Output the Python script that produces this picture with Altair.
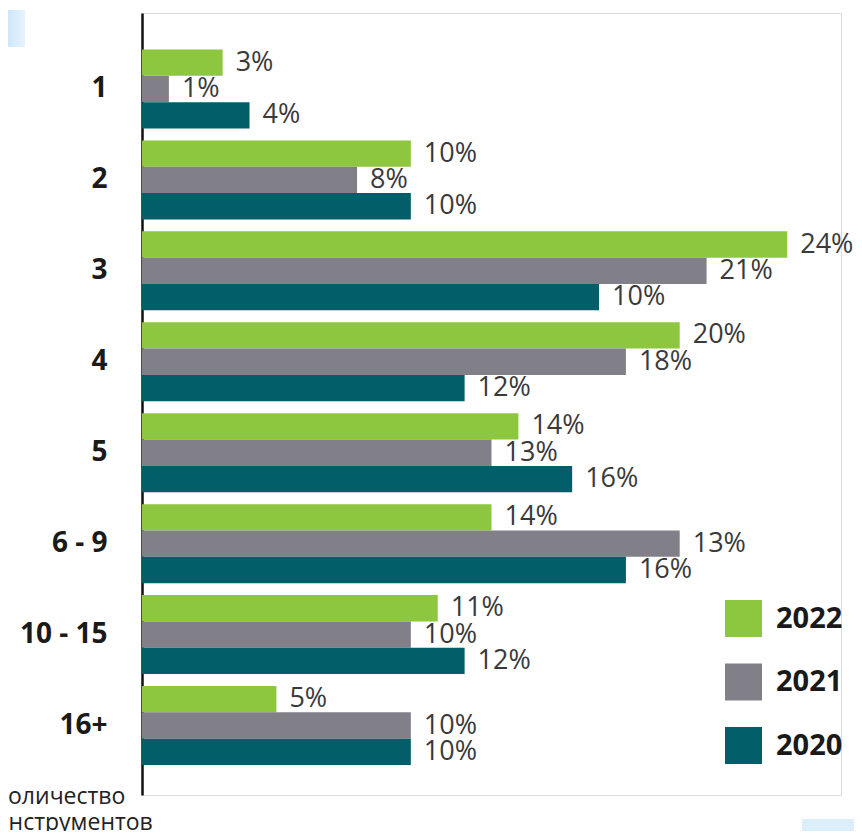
import altair as alt
import pandas as pd

categories = ["1", "2", "3", "4", "5", "6 - 9", "10 - 15", "16+"]
years = ["2022", "2021", "2020"]

# bar lengths (percent) as drawn
v2022 = [3, 10, 24, 20, 14, 13, 11, 5]
v2021 = [1, 8, 21, 18, 13, 20, 10, 10]
v2020 = [4, 10, 17, 12, 16, 18, 12, 10]

# printed labels
lab2022 = ["3%", "10%", "24%", "20%", "14%", "14%", "11%", "5%"]
lab2021 = ["1%", "8%", "21%", "18%", "13%", "13%", "10%", "10%"]
lab2020 = ["4%", "10%", "10%", "12%", "16%", "16%", "12%", "10%"]

colors = ["#8DC63F", "#818088", "#025E68"]
axis_caption = "Количество\nинструментов"

rows = []
for yr, vals, labs in [("2022", v2022, lab2022), ("2021", v2021, lab2021), ("2020", v2020, lab2020)]:
    for c, v, l in zip(categories, vals, labs):
        rows.append({"cat": c, "year": yr, "value": v, "label": l})
df = pd.DataFrame(rows)

y_enc = alt.Y("cat:N", sort=categories, title=None,
              scale=alt.Scale(paddingInner=0.131, paddingOuter=0.3655, align=0.549),
              axis=alt.Axis(domain=True, domainColor="#111111", domainWidth=2.5,
                            ticks=False, grid=False, labelPadding=35,
                            labelFont="Open Sans", labelFontSize=28, labelFontWeight="bold",
                            labelColor="#1a1a1a"))
yoff = alt.YOffset("year:N", sort=years, scale=alt.Scale(domain=years, paddingInner=0, paddingOuter=0))
x_enc = alt.X("value:Q", axis=None, scale=alt.Scale(domain=[0, 26], nice=False, zero=True))

bars = alt.Chart(df).mark_bar(strokeWidth=0).encode(
    y=y_enc,
    yOffset=yoff,
    x=x_enc,
    color=alt.Color("year:N", sort=years,
                    scale=alt.Scale(domain=years, range=colors),
                    legend=alt.Legend(title=None, orient="none", legendX=583, legendY=587,
                                      symbolType="square", symbolSize=1369, symbolStrokeWidth=0,
                                      symbolOpacity=1, labelFont="Open Sans", labelFontSize=29,
                                      labelFontWeight="bold", labelColor="#1a1a1a",
                                      labelOffset=14, rowPadding=26.5, padding=0)),
)

texts = alt.Chart(df).mark_text(align="left", baseline="middle", dx=13,
                                font="Open Sans", fontSize=27, color="#3a3a3a").encode(
    y=alt.Y("cat:N", sort=categories),
    yOffset=alt.YOffset("year:N", sort=years),
    x=alt.X("value:Q"),
    text="label:N",
)

one = pd.DataFrame({"k": [0]})
grad = alt.Gradient(gradient="linear", x1=0, x2=1, y1=0, y2=0,
                    stops=[alt.GradientStop(color="#cfe7fa", offset=0),
                           alt.GradientStop(color="#e6f3fd", offset=1)])
deco1 = alt.Chart(one).mark_rect(color=grad).encode(
    x=alt.value(-134), x2=alt.value(-117), y=alt.value(-3), y2=alt.value(34))
deco2 = alt.Chart(one).mark_rect(color="#ddeefb").encode(
    x=alt.value(660), x2=alt.value(720), y=alt.value(806), y2=alt.value(820))

caption = alt.Chart(pd.DataFrame({"t": [axis_caption]})).mark_text(
    align="left", baseline="alphabetic", lineBreak="\n", lineHeight=26,
    font="Open Sans", fontSize=23, color="#222222").encode(
    x=alt.value(-148), y=alt.value(791), text="t:N")

chart = alt.layer(deco1, deco2, bars, texts, caption).properties(
    width=699, height=782,
    padding={"left": 134, "top": 5, "right": 13, "bottom": 36},
    autosize="none",
).configure_view(stroke=None).configure(background="white")

chart.save("out.html", embed_options={"renderer": "svg", "actions": False})
